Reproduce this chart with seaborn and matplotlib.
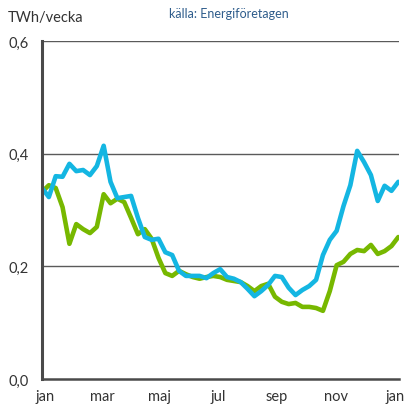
import matplotlib
matplotlib.use("Agg")
import matplotlib.pyplot as plt
import seaborn as sns
import pandas as pd
import numpy as np

weeks = list(range(53))
blue = [0.339, 0.323, 0.360, 0.359, 0.382, 0.369, 0.371, 0.362, 0.378, 0.414,
        0.350, 0.321, 0.323, 0.325, 0.286, 0.252, 0.247, 0.249, 0.225, 0.220,
        0.192, 0.183, 0.183, 0.183, 0.179, 0.188, 0.195, 0.181, 0.178, 0.172,
        0.160, 0.147, 0.156, 0.167, 0.183, 0.181, 0.162, 0.149, 0.158, 0.165,
        0.176, 0.220, 0.247, 0.263, 0.307, 0.344, 0.405, 0.385, 0.362, 0.316,
        0.343, 0.334, 0.350]
green = [0.332, 0.344, 0.339, 0.305, 0.240, 0.275, 0.266, 0.259, 0.270, 0.328,
         0.312, 0.320, 0.314, 0.286, 0.257, 0.266, 0.249, 0.215, 0.188, 0.183,
         0.192, 0.186, 0.181, 0.178, 0.181, 0.183, 0.181, 0.176, 0.174, 0.172,
         0.165, 0.156, 0.165, 0.169, 0.146, 0.137, 0.133, 0.135, 0.128, 0.128,
         0.126, 0.121, 0.156, 0.202, 0.208, 0.222, 0.229, 0.227, 0.238, 0.222,
         0.227, 0.236, 0.252]
month_labels = ["jan", "mar", "maj", "jul", "sep", "nov", "jan"]
month_pos = [0.4, 8.8, 17.2, 25.7, 34.3, 42.9, 51.5]
y_ticks = [0.0, 0.2, 0.4, 0.6]
y_labels = ["0,0", "0,2", "0,4", "0,6"]

sns.set_style("white")
plt.rcParams['font.family'] = ['Lato', 'DejaVu Sans']

df = pd.DataFrame({"week": weeks, "blue": blue, "green": green})

fig = plt.figure(figsize=(4.05, 4.06), dpi=100)
ax = fig.add_axes([42/405, 26/406, 357/405, 338/406])

for y in [0.2, 0.4, 0.6]:
    ax.axhline(y, color="#5a5a5a", lw=1.0, zorder=1)

sns.lineplot(data=df, x="week", y="green", color="#77B800", lw=3.3, ax=ax, zorder=3)
sns.lineplot(data=df, x="week", y="blue", color="#14B6E2", lw=3.3, ax=ax, zorder=4)

ax.set_xlim(0, 52.1)
ax.set_ylim(0, 0.6)
ax.set_xticks(month_pos)
ax.set_xticklabels(month_labels, fontsize=10.5, color="#333333")
ax.set_yticks(y_ticks)
ax.set_yticklabels(y_labels, fontsize=10.5, color="#333333")
ax.tick_params(axis="x", length=0, pad=7)
ax.tick_params(axis="y", length=7, width=2, direction="inout", color="#4a4a4a", pad=6)
ax.set_xlabel("")
ax.set_ylabel("")
for s in ["top", "right"]:
    ax.spines[s].set_visible(False)
ax.spines["left"].set_color("#4a4a4a")
ax.spines["left"].set_linewidth(2.2)
ax.spines["bottom"].set_color("#4a4a4a")
ax.spines["bottom"].set_linewidth(1.8)
ax.spines["left"].set_zorder(5)

fig.text(8/405, 1 - 18/406, "TWh/vecka", fontsize=10.5, color="#333333", va="center", ha="left")
fig.text(229/405, 1 - 14/406, "källa: Energiföretagen", fontsize=9, color="#2F5D8C", va="center", ha="center")

fig.savefig("out.png", dpi=100)
